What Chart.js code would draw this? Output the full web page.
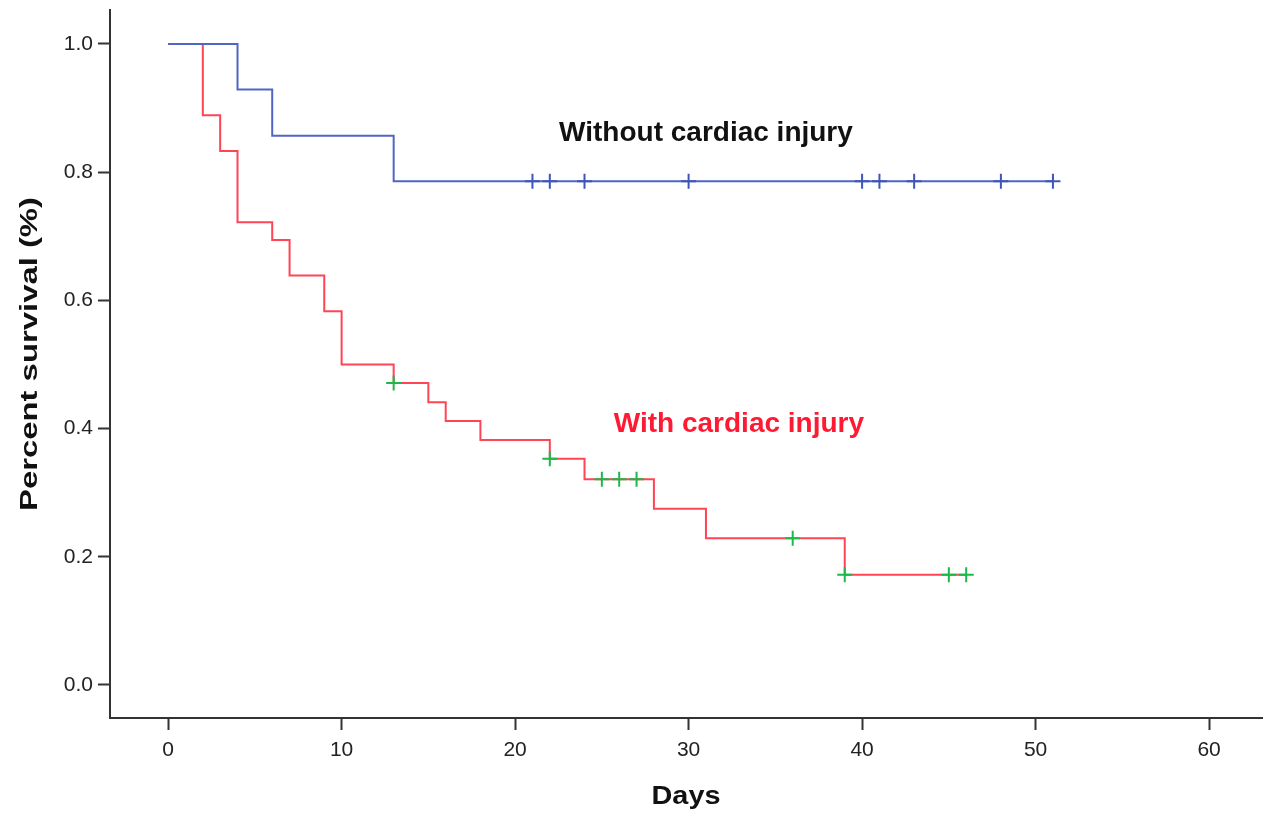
<!DOCTYPE html>
<html>
<head>
<meta charset="utf-8">
<script src="https://cdn.jsdelivr.net/npm/chart.js@4/dist/chart.umd.min.js"></script>
<style>
  html, body { margin: 0; padding: 0; background: #fff; }
  #wrap { width: 1265px; height: 814px; }
</style>
</head>
<body>
<div id="wrap"><canvas id="kmChart" width="1265" height="814"></canvas></div>
<script>
// Kaplan-Meier steps (time in days, survival fraction)
const noInjuryDays = [0, 4, 6, 13, 51];
const noInjurySurv = [1.0, 0.929, 0.857, 0.786, 0.786];
const noInjuryCensorDays = [21, 22, 24, 30, 40, 41, 43, 48, 51];
const noInjuryCensorSurv = [0.786, 0.786, 0.786, 0.786, 0.786, 0.786, 0.786, 0.786, 0.786];

const injuryDays = [0, 2, 3, 4, 6, 7, 9, 10, 13, 15, 16, 18, 22, 24, 28, 31, 39, 46];
const injurySurv = [1.0, 0.889, 0.833, 0.722, 0.694, 0.639, 0.583, 0.5, 0.471, 0.441, 0.412, 0.382, 0.353, 0.321, 0.275, 0.229, 0.172, 0.172];
const injuryCensorDays = [13, 22, 25, 26, 27, 36, 39, 45, 46];
const injuryCensorSurv = [0.471, 0.353, 0.321, 0.321, 0.321, 0.229, 0.172, 0.172, 0.172];

const xTicks = [0, 10, 20, 30, 40, 50, 60];
const yTicks = [0.0, 0.2, 0.4, 0.6, 0.8, 1.0];

const blue = '#5066c4';
const red = '#ff4455';
const green = '#1db84a';

function toPoints(xs, ys) {
    return xs.map((x, i) => ({ x: x, y: ys[i] }));
}

// draw text squeezed/stretched to a given length
function fitText(ctx, text, x, y, len, angle) {
    const w = ctx.measureText(text).width;
    ctx.save();
    ctx.translate(x, y);
    ctx.rotate(angle);
    ctx.scale(len / w, 1);
    ctx.fillText(text, 0, 0);
    ctx.restore();
}

// curve labels in data coordinates + axis titles
const chartText = {
    id: 'chartText',
    afterDatasetsDraw(chart) {
        const ctx = chart.ctx;
        const xs = chart.scales.x, ys = chart.scales.y;
        const area = chart.chartArea;
        ctx.save();
        ctx.textAlign = 'center';
        ctx.textBaseline = 'middle';
        ctx.font = 'bold 28px "Liberation Sans", Arial, sans-serif';
        ctx.fillStyle = '#111';
        ctx.fillText('Without cardiac injury', xs.getPixelForValue(31.0), ys.getPixelForValue(0.861));
        ctx.fillStyle = '#ff1a33';
        ctx.fillText('With cardiac injury', xs.getPixelForValue(32.9), ys.getPixelForValue(0.406));

        ctx.fillStyle = '#111';
        ctx.font = 'bold 25px "Liberation Sans", Arial, sans-serif';
        fitText(ctx, 'Days', (area.left + area.right) / 2, 797, 69, 0);
        ctx.font = 'bold 24px "Liberation Sans", Arial, sans-serif';
        fitText(ctx, 'Percent survival (%)', 30, 354, 314, -Math.PI / 2);
        ctx.restore();
    }
};

const kmConfig = {
    type: 'line',
    data: {
        datasets: [
            {
                label: 'Without cardiac injury',
                data: toPoints(noInjuryDays, noInjurySurv),
                borderColor: blue,
                borderWidth: 2,
                stepped: 'before',
                pointRadius: 0,
                fill: false,
                order: 2
            },
            {
                label: 'With cardiac injury',
                data: toPoints(injuryDays, injurySurv),
                borderColor: red,
                borderWidth: 2,
                stepped: 'before',
                pointRadius: 0,
                fill: false,
                order: 2
            },
            {
                label: 'Censored (without)',
                data: toPoints(noInjuryCensorDays, noInjuryCensorSurv),
                showLine: false,
                pointStyle: 'cross',
                pointRadius: 7.5,
                pointBorderWidth: 2,
                pointBorderColor: '#3f55b8',
                borderColor: blue,
                order: 1
            },
            {
                label: 'Censored (with)',
                data: toPoints(injuryCensorDays, injuryCensorSurv),
                showLine: false,
                pointStyle: 'cross',
                pointRadius: 7.5,
                pointBorderWidth: 2,
                pointBorderColor: green,
                borderColor: green,
                order: 1
            }
        ]
    },
    options: {
        responsive: false,
        animation: false,
        layout: { autoPadding: false, padding: { top: 10, right: 3, left: 0, bottom: 0 } },
        plugins: {
            legend: { display: false },
            tooltip: { enabled: false }
        },
        scales: {
            x: {
                type: 'linear',
                min: -3.35,
                max: 63.05,
                afterBuildTicks: (axis) => { axis.ticks = xTicks.map(v => ({ value: v })); },
                afterFit: (axis) => {
                    axis.height = 96;
                    axis.paddingLeft = 0;
                    axis.paddingRight = 0;
                },
                grid: { drawOnChartArea: false, drawTicks: true, tickLength: 12, tickWidth: 2, color: '#333' },
                border: { display: true, color: '#333', width: 2 },
                ticks: {
                    color: '#222',
                    padding: 8,
                    maxRotation: 0,
                    font: { family: '"Liberation Sans", Arial, sans-serif', size: 21 }
                }
            },
            y: {
                type: 'linear',
                min: -0.0515,
                max: 1.053,
                afterBuildTicks: (axis) => { axis.ticks = yTicks.map(v => ({ value: v })); },
                afterFit: (axis) => {
                    axis.width = 110;
                    axis.paddingTop = 0;
                    axis.paddingBottom = 0;
                },
                grid: { drawOnChartArea: false, drawTicks: true, tickLength: 12, tickWidth: 2, color: '#333' },
                border: { display: true, color: '#333', width: 2 },
                ticks: {
                    color: '#222',
                    padding: 5,
                    callback: (v) => Number(v).toFixed(1),
                    font: { family: '"Liberation Sans", Arial, sans-serif', size: 21 }
                }
            }
        }
    },
    plugins: [chartText]
};

window.onload = function () {
    const ctx = document.getElementById('kmChart').getContext('2d');
    new Chart(ctx, kmConfig);
};
</script>
</body>
</html>
